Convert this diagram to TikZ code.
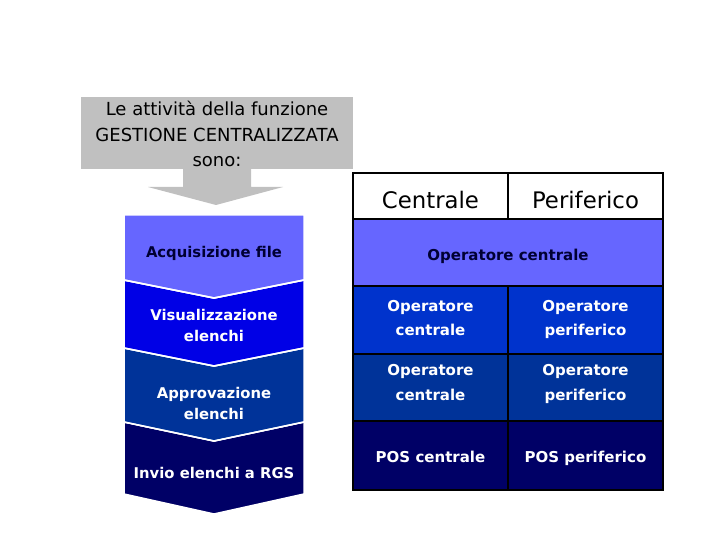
\documentclass[tikz,border=0pt]{standalone}
\usepackage{fontspec}
\setmainfont{DejaVu Sans}
\definecolor{grayc}{HTML}{C0C0C0}
\definecolor{lav}{HTML}{6666FF}
\definecolor{blueA}{HTML}{0000E6}
\definecolor{blueT}{HTML}{0033CC}
\definecolor{blueB}{HTML}{003399}
\definecolor{navy}{HTML}{000066}
\definecolor{ink}{HTML}{000033}
\tikzset{
  cell/.style={rectangle, inner sep=0pt, outer sep=0pt, draw=black, line width=1.4pt},
  celltext/.style={align=center, inner sep=0pt, font=\bfseries\fontsize{15}{24.5}\selectfont},
  headtext/.style={inner sep=0pt, font=\fontsize{22.8}{25}\selectfont, text=black},
  chev/.style={draw=white, line width=1.5pt},
  chevtext/.style={align=center, font=\bfseries\fontsize{14.8}{21}\selectfont, inner sep=0pt},
}
\begin{document}
\begin{tikzpicture}[x=1pt,y=-1pt]
\useasboundingbox (0,0) rectangle (720,540);
\fill[white] (0,0) rectangle (720,540);
% gray title box with arrow
\fill[grayc] (81,97) rectangle (353,169);
\fill[grayc] (183,169) -- (251,169) -- (251,187) -- (283,187) -- (216,205) -- (148,187) -- (183,187) -- cycle;
\node[align=center, font=\fontsize{18}{25.5}\selectfont, inner sep=0pt] (title) at (217,134)
  {Le attività della funzione\\GESTIONE CENTRALIZZATA\\sono:};
% chevrons
\fill[chev, fill=navy] (124,422) -- (214,441) -- (304,422) -- (304,494) -- (214,514) -- (124,494) -- cycle;
\fill[chev, fill=blueB] (124,348) -- (214,366) -- (304,348) -- (304,422) -- (214,441) -- (124,422) -- cycle;
\fill[chev, fill=blueA] (124,280) -- (214,298) -- (304,280) -- (304,348) -- (214,366) -- (124,348) -- cycle;
\fill[chev, fill=lav] (124,215) -- (304,215) -- (304,280) -- (214,298) -- (124,280) -- cycle;
\draw[chev] (124,280) -- (214,298) -- (304,280);
\draw[chev] (124,348) -- (214,366) -- (304,348);
\draw[chev] (124,422) -- (214,441) -- (304,422);
\node[chevtext, text=ink] (c1) at (214,253.5) {Acquisizione file};
\node[chevtext, text=white] (c2) at (214,325.5) {Visualizzazione\\elenchi};
\node[chevtext, text=white] (c3) at (214,403.5) {Approvazione\\elenchi};
\node[chevtext, text=white] (c4) at (214,472.5) {Invio elenchi a RGS};
% table cells
\node[cell, fill=white, minimum width=155, minimum height=46] (hc) at (430.5,196) {};
\node[cell, fill=white, minimum width=155, minimum height=46] (hp) at (585.5,196) {};
\node[cell, fill=lav, minimum width=310, minimum height=67] (r2) at (508,252.5) {};
\node[cell, fill=blueT, minimum width=155, minimum height=68] (r3a) at (430.5,320) {};
\node[cell, fill=blueT, minimum width=155, minimum height=68] (r3b) at (585.5,320) {};
\node[cell, fill=blueB, minimum width=155, minimum height=67] (r4a) at (430.5,387.5) {};
\node[cell, fill=blueB, minimum width=155, minimum height=67] (r4b) at (585.5,387.5) {};
\node[cell, fill=navy, minimum width=155, minimum height=69] (r5a) at (430.5,455.5) {};
\node[cell, fill=navy, minimum width=155, minimum height=69] (r5b) at (585.5,455.5) {};
\draw[line width=2.2pt, black] (hc.north west) rectangle (r5b.south east);
% table texts
\node[headtext] (thc) at ([yshift=-4pt]hc.center) {Centrale};
\node[headtext] (thp) at ([yshift=-4pt]hp.center) {Periferico};
\node[celltext, text=ink] (t2) at ([yshift=-3.5pt]r2.center) {\strut Operatore centrale};
\node[celltext, text=white] (t3a) at ([yshift=1.5pt]r3a.center) {\strut Operatore\\centrale\strut};
\node[celltext, text=white] (t3b) at ([yshift=1.5pt]r3b.center) {\strut Operatore\\periferico\strut};
\node[celltext, text=white] (t4a) at ([yshift=4.5pt]r4a.center) {\strut Operatore\\centrale\strut};
\node[celltext, text=white] (t4b) at ([yshift=4.5pt]r4b.center) {\strut Operatore\\periferico\strut};
\node[celltext, text=white] (t5a) at ([yshift=-2pt]r5a.center) {\strut POS centrale};
\node[celltext, text=white] (t5b) at ([yshift=-2pt]r5b.center) {\strut POS periferico};
\end{tikzpicture}
\end{document}
